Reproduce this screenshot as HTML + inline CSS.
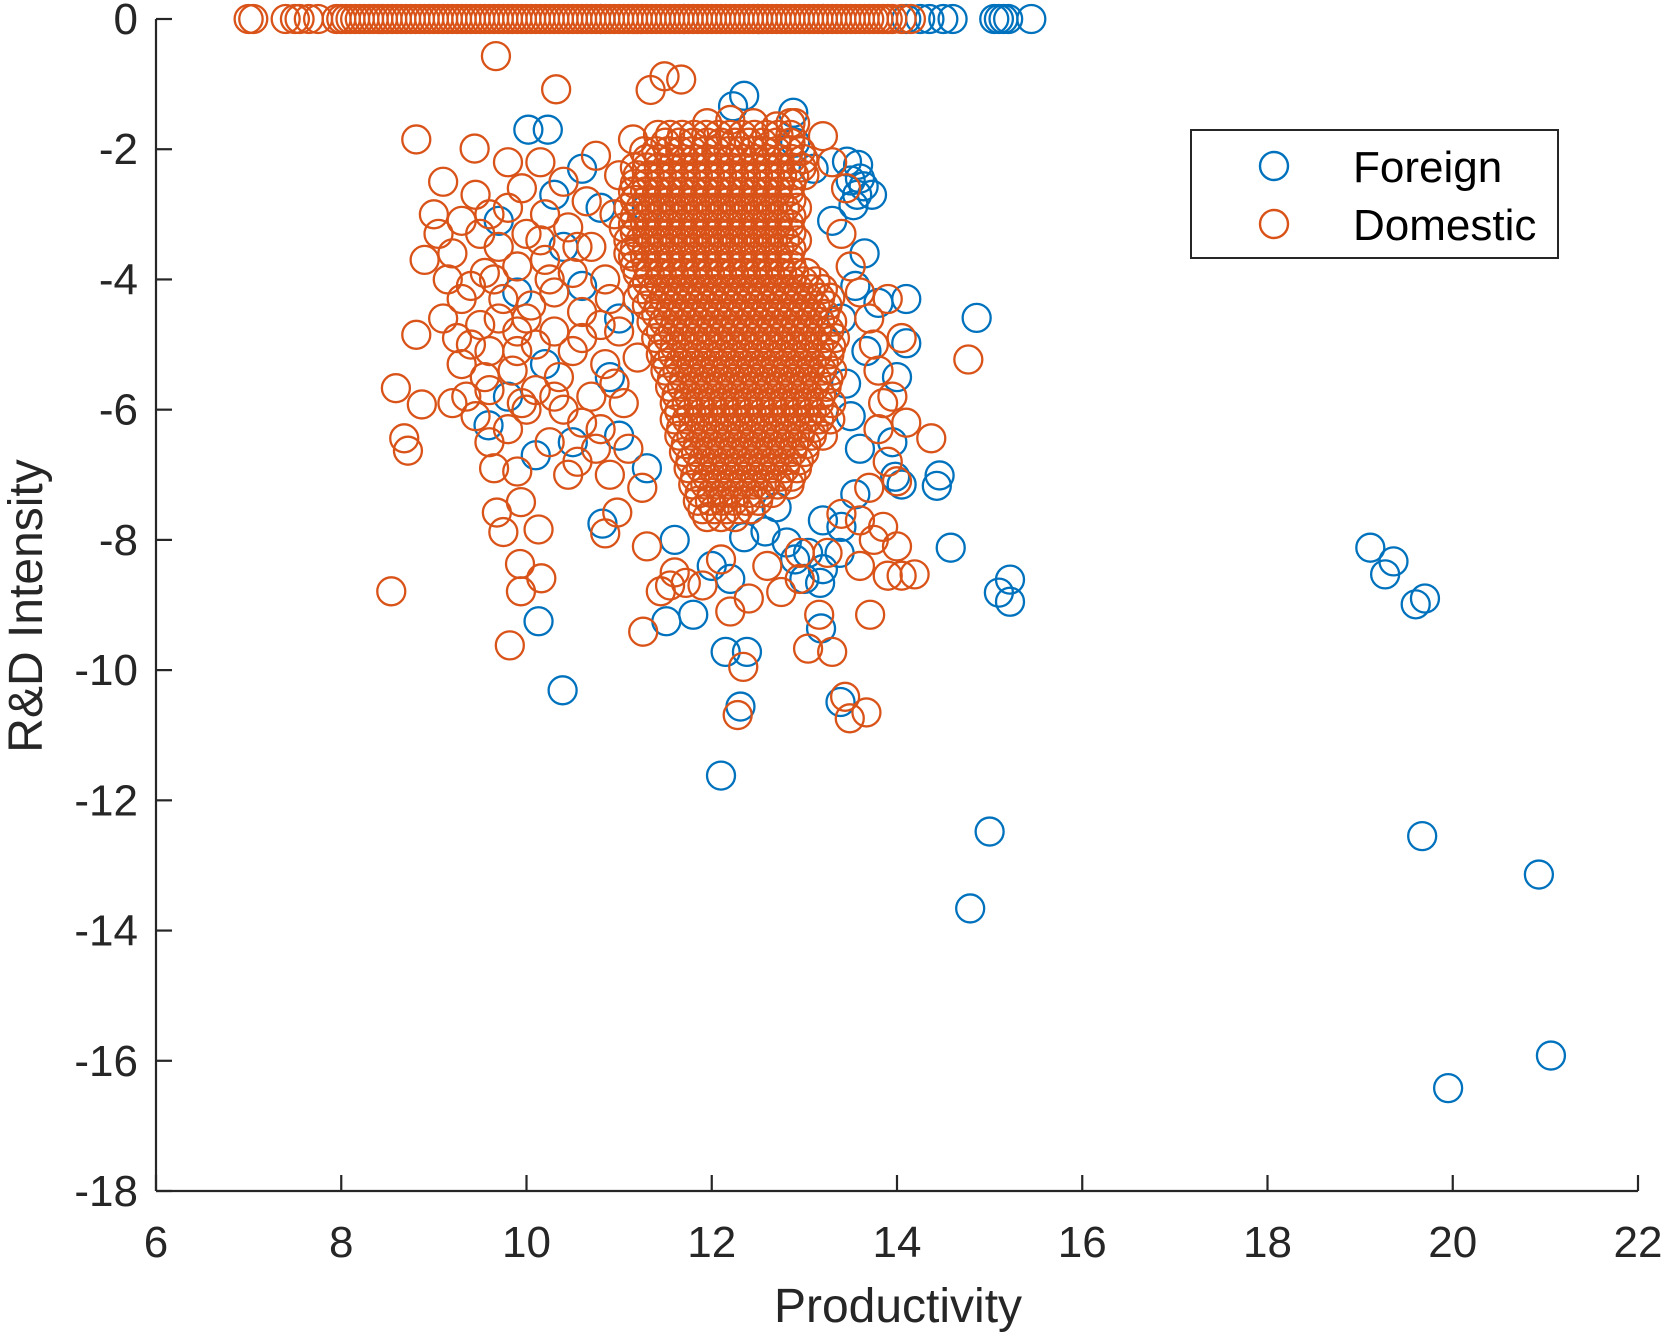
<!DOCTYPE html>
<html><head><meta charset="utf-8"><style>
html,body{margin:0;padding:0;background:#fff;}
svg{display:block;font-family:"Liberation Sans",Arial,sans-serif;}
</style></head><body>
<svg id="chart" width="1667" height="1340" viewBox="0 0 1667 1340" xmlns="http://www.w3.org/2000/svg">
<g id="plot"></g>
<g id="axes"></g>
<text x="898" y="1322" font-size="48" text-anchor="middle" fill="#262626">Productivity</text>
<text x="0" y="0" transform="translate(42,606) rotate(-90)" font-size="48" text-anchor="middle" fill="#262626">R&amp;D Intensity</text>
<g>
<rect x="1191" y="130" width="367" height="128" fill="#fff" stroke="#262626" stroke-width="2"/>
<circle cx="1274" cy="166" r="14" fill="none" stroke="#0072BD" stroke-width="2.4"/>
<text x="1353" y="182" font-size="44" fill="#000">Foreign</text>
<circle cx="1274" cy="224" r="14" fill="none" stroke="#D95319" stroke-width="2.4"/>
<text x="1353" y="240" font-size="44" fill="#000">Domestic</text>
</g>
</svg>
<script>
const xTicks=[6,8,10,12,14,16,18,20,22];
const yTicks=[0,-2,-4,-6,-8,-10,-12,-14,-16,-18];
const foreignTop=[[14.1,0],[14.25,0],[14.35,0],[14.5,0],[14.6,0],[15.05,0],[15.1,0],[15.15,0],[15.2,0],[15.45,0],[13.2,0],[12.5,0],[11.7,0],[10.8,0]];
const foreignPts=[[19.11,-8.12],[19.36,-8.33],[19.27,-8.53],[19.6,-8.99],[19.7,-8.9],[19.67,-12.55],[20.93,-13.14],[21.06,-15.92],[19.95,-16.42],[14.79,-13.66],[15.0,-12.48],[12.1,-11.62],[14.86,-4.59],[14.58,-8.12],[15.1,-8.81],[15.22,-8.61],[15.22,-8.95],[14.46,-7.01],[14.43,-7.17],[10.39,-10.31],[10.13,-9.25],[11.51,-9.25],[11.8,-9.15],[12.15,-9.72],[12.38,-9.72],[12.31,-10.56],[13.39,-10.49],[13.18,-9.36],[13.17,-8.66],[13.46,-2.19],[13.58,-2.24],[13.5,-2.48],[13.64,-2.57],[13.57,-2.7],[13.73,-2.7],[13.53,-2.86],[13.6,-2.45],[12.35,-1.18],[12.23,-1.34],[12.88,-1.44],[10.02,-1.7],[10.23,-1.7],[13.8,-4.36],[14.1,-4.3],[14.1,-4.98],[13.67,-5.1],[13.98,-7.03],[14.05,-7.15],[10.82,-7.75],[9.59,-6.24],[13.38,-8.2],[12.58,-7.87],[12.81,-8.04],[12.35,-7.96],[13.04,-8.2],[13.2,-8.45],[12.9,-8.3],[13.45,-5.6],[13.5,-6.1],[13.6,-6.6],[13.55,-7.3],[13.4,-7.8],[13.65,-3.6],[13.55,-4.1],[13.4,-4.6],[10.3,-2.7],[10.8,-2.9],[10.4,-3.5],[9.9,-4.2],[10.6,-4.1],[11.0,-4.6],[10.2,-5.3],[9.8,-5.8],[10.9,-5.5],[11.0,-6.4],[10.5,-6.5],[11.3,-6.9],[10.1,-6.7],[12.0,-8.4],[12.2,-8.6],[13.0,-8.6],[13.2,-7.7],[12.7,-7.5],[13.95,-6.5],[14.0,-5.5],[9.7,-3.1],[10.6,-2.3],[11.3,-2.9],[11.6,-8.0],[12.9,-1.9],[13.1,-2.3],[13.3,-3.1]];
const domesticTop=[[7.0,0],[7.05,0],[7.4,0],[7.5,0],[7.55,0],[7.65,0],[7.75,0],[7.95,0],[8.0,0],[8.05,0],[8.1,0],[8.15,0],[8.2,0],[8.3,0],[8.35,0],[8.4,0],[8.5,0],[8.6,0],[8.7,0],[8.8,0],[8.9,0],[9.0,0],[9.1,0],[9.2,0],[9.3,0],[9.4,0],[9.5,0],[9.6,0],[9.7,0],[9.8,0],[9.9,0],[10.0,0],[10.1,0],[10.2,0],[10.3,0],[10.4,0],[10.5,0],[10.6,0],[10.7,0],[10.8,0],[10.9,0],[11.0,0],[11.1,0],[11.2,0],[11.3,0],[11.4,0],[11.5,0],[11.6,0],[11.7,0],[11.8,0],[11.9,0],[12.0,0],[12.1,0],[12.2,0],[12.3,0],[12.4,0],[12.5,0],[12.6,0],[12.7,0],[12.8,0],[12.9,0],[13.0,0],[13.1,0],[13.2,0],[13.3,0],[13.4,0],[13.5,0],[13.6,0],[13.7,0],[13.8,0],[13.9,0],[14.05,0],[14.15,0],[8.25,0],[8.45,0],[8.55,0],[8.65,0],[8.75,0],[8.85,0],[8.95,0],[9.05,0],[9.15,0],[9.25,0],[9.35,0],[9.45,0],[9.55,0],[9.65,0],[9.75,0],[9.85,0],[9.95,0],[10.05,0],[10.15,0],[10.25,0],[10.35,0],[10.45,0],[10.55,0],[10.65,0],[10.75,0],[10.85,0],[10.95,0],[11.05,0],[11.15,0],[11.25,0],[11.35,0],[11.45,0],[11.55,0],[11.65,0],[11.75,0],[11.85,0],[11.95,0],[12.05,0],[12.15,0],[12.25,0],[12.35,0],[12.45,0],[12.55,0],[12.65,0],[12.75,0],[12.85,0],[12.95,0],[13.05,0],[13.15,0],[13.25,0],[13.35,0],[13.45,0],[13.55,0],[13.65,0],[13.75,0],[13.85,0],[13.95,0]];
const domesticOut=[[9.67,-0.57],[10.32,-1.08],[8.81,-1.85],[9.44,-1.99],[8.54,-8.79],[8.59,-5.67],[8.68,-6.44],[8.72,-6.63],[8.81,-4.85],[8.87,-5.92],[9.82,-9.62],[9.93,-8.37],[9.94,-8.79],[10.16,-8.59],[10.13,-7.84],[9.94,-7.42],[9.68,-7.58],[9.75,-7.88],[14.77,-5.23],[14.37,-6.44],[14.19,-8.53],[14.05,-8.55],[13.71,-9.15],[13.67,-10.65],[13.49,-10.74],[13.44,-10.41],[12.28,-10.69],[12.34,-9.95],[11.26,-9.41],[13.3,-9.72],[13.04,-9.67],[13.16,-9.15],[11.34,-1.09],[11.49,-0.88],[11.67,-0.93],[10.98,-7.58],[11.45,-8.79],[11.72,-8.66],[9.65,-6.9],[9.9,-6.95],[10.85,-7.9],[11.3,-8.1],[11.6,-8.5],[11.9,-8.7],[12.2,-9.1],[12.4,-8.9],[12.75,-8.8],[12.95,-8.6],[13.6,-8.4],[13.75,-8.0],[13.85,-7.8],[14.0,-8.1],[13.9,-8.55],[12.1,-8.3],[11.55,-8.7]];
const domesticCloud=[[8.9,-3.7],[9.0,-3.0],[9.1,-2.5],[9.05,-3.3],[9.15,-4.0],[9.2,-3.6],[9.3,-4.3],[9.25,-4.9],[9.3,-5.3],[9.35,-5.8],[9.45,-6.1],[9.45,-2.7],[9.5,-3.3],[9.5,-4.7],[9.55,-3.9],[9.6,-5.1],[9.6,-5.7],[9.7,-3.5],[9.75,-4.3],[9.8,-2.2],[9.8,-2.9],[9.8,-6.3],[9.85,-5.4],[9.9,-3.8],[9.9,-4.8],[9.95,-2.6],[10.0,-3.3],[10.0,-6.0],[10.05,-4.4],[10.1,-5.0],[10.1,-5.7],[10.15,-2.2],[10.2,-3.0],[10.2,-3.7],[10.25,-6.5],[10.3,-4.2],[10.3,-4.8],[10.35,-5.5],[10.4,-2.5],[10.4,-6.0],[10.45,-3.2],[10.5,-3.9],[10.5,-5.1],[10.55,-6.8],[10.6,-4.5],[10.65,-2.8],[10.7,-5.8],[10.7,-3.5],[10.75,-2.1],[10.8,-6.3],[10.85,-4.0],[10.85,-5.3],[10.9,-7.0],[10.95,-3.0],[11.0,-4.8],[11.0,-2.4],[11.05,-5.9],[11.1,-3.6],[11.1,-6.6],[11.15,-1.85],[11.2,-4.3],[11.2,-5.2],[9.4,-4.1],[9.65,-4.0],[10.0,-4.6],[10.6,-6.2],[9.55,-5.5],[10.8,-4.7],[11.25,-7.2],[9.2,-5.9],[9.1,-4.6],[13.4,-3.3],[13.5,-3.8],[13.6,-4.2],[13.7,-4.6],[13.75,-5.0],[13.8,-5.4],[13.85,-5.9],[13.8,-6.3],[13.9,-6.8],[14.0,-7.1],[13.7,-7.2],[13.95,-5.8],[14.1,-6.2],[14.05,-4.9],[13.9,-4.3],[13.4,-7.6],[13.6,-7.7],[13.45,-2.6],[13.3,-2.2],[13.2,-1.8],[12.9,-1.6],[13.25,-8.2],[12.95,-8.2],[12.6,-8.4],[9.3,-3.1],[9.6,-3.0],[9.7,-4.6],[9.4,-5.0],[9.9,-5.1],[10.25,-4.0],[10.6,-4.9],[10.3,-5.8],[10.75,-6.6],[10.9,-4.3],[10.55,-3.5],[10.15,-3.4],[9.95,-5.9],[9.6,-6.5],[10.45,-7.0],[10.95,-5.6],[11.05,-3.2]];
const domesticCore=[[11.95,-1.6],[12.2,-1.55],[12.45,-1.6],[12.7,-1.65],[12.85,-1.6],[11.5,-1.9],[11.65,-1.9],[11.8,-1.9],[11.95,-1.9],[12.1,-1.9],[12.25,-1.9],[12.4,-1.9],[12.55,-1.9],[12.7,-1.9],[12.85,-1.9],[11.3,-2.15],[11.43,-2.15],[11.56,-2.15],[11.69,-2.15],[11.82,-2.15],[11.95,-2.15],[12.08,-2.15],[12.21,-2.15],[12.34,-2.15],[12.47,-2.15],[12.6,-2.15],[12.73,-2.15],[12.86,-2.15],[12.99,-2.15],[11.2,-2.4],[11.33,-2.4],[11.46,-2.4],[11.59,-2.4],[11.72,-2.4],[11.85,-2.4],[11.98,-2.4],[12.11,-2.4],[12.24,-2.4],[12.37,-2.4],[12.5,-2.4],[12.63,-2.4],[12.76,-2.4],[12.89,-2.4],[13.0,-2.4],[11.15,-2.65],[11.28,-2.65],[11.41,-2.65],[11.54,-2.65],[11.67,-2.65],[11.8,-2.65],[11.93,-2.65],[12.06,-2.65],[12.19,-2.65],[12.32,-2.65],[12.45,-2.65],[12.58,-2.65],[12.71,-2.65],[12.84,-2.65],[11.1,-2.9],[11.23,-2.9],[11.36,-2.9],[11.49,-2.9],[11.62,-2.9],[11.75,-2.9],[11.88,-2.9],[12.01,-2.9],[12.14,-2.9],[12.27,-2.9],[12.4,-2.9],[12.53,-2.9],[12.66,-2.9],[12.79,-2.9],[12.92,-2.9],[11.15,-3.15],[11.28,-3.15],[11.41,-3.15],[11.54,-3.15],[11.67,-3.15],[11.8,-3.15],[11.93,-3.15],[12.06,-3.15],[12.19,-3.15],[12.32,-3.15],[12.45,-3.15],[12.58,-3.15],[12.71,-3.15],[12.84,-3.15],[11.1,-3.4],[11.23,-3.4],[11.36,-3.4],[11.49,-3.4],[11.62,-3.4],[11.75,-3.4],[11.88,-3.4],[12.01,-3.4],[12.14,-3.4],[12.27,-3.4],[12.4,-3.4],[12.53,-3.4],[12.66,-3.4],[12.79,-3.4],[12.92,-3.4],[11.15,-3.65],[11.28,-3.65],[11.41,-3.65],[11.54,-3.65],[11.67,-3.65],[11.8,-3.65],[11.93,-3.65],[12.06,-3.65],[12.19,-3.65],[12.32,-3.65],[12.45,-3.65],[12.58,-3.65],[12.71,-3.65],[12.84,-3.65],[11.2,-3.9],[11.33,-3.9],[11.46,-3.9],[11.59,-3.9],[11.72,-3.9],[11.85,-3.9],[11.98,-3.9],[12.11,-3.9],[12.24,-3.9],[12.37,-3.9],[12.5,-3.9],[12.63,-3.9],[12.76,-3.9],[12.89,-3.9],[13.02,-3.9],[11.25,-4.15],[11.38,-4.15],[11.51,-4.15],[11.64,-4.15],[11.77,-4.15],[11.9,-4.15],[12.03,-4.15],[12.16,-4.15],[12.29,-4.15],[12.42,-4.15],[12.55,-4.15],[12.68,-4.15],[12.81,-4.15],[12.94,-4.15],[13.07,-4.15],[13.2,-4.15],[11.3,-4.4],[11.43,-4.4],[11.56,-4.4],[11.69,-4.4],[11.82,-4.4],[11.95,-4.4],[12.08,-4.4],[12.21,-4.4],[12.34,-4.4],[12.47,-4.4],[12.6,-4.4],[12.73,-4.4],[12.86,-4.4],[12.99,-4.4],[13.12,-4.4],[13.25,-4.4],[11.35,-4.65],[11.48,-4.65],[11.61,-4.65],[11.74,-4.65],[11.87,-4.65],[12.0,-4.65],[12.13,-4.65],[12.26,-4.65],[12.39,-4.65],[12.52,-4.65],[12.65,-4.65],[12.78,-4.65],[12.91,-4.65],[13.04,-4.65],[13.17,-4.65],[13.3,-4.65],[11.4,-4.9],[11.53,-4.9],[11.66,-4.9],[11.79,-4.9],[11.92,-4.9],[12.05,-4.9],[12.18,-4.9],[12.31,-4.9],[12.44,-4.9],[12.57,-4.9],[12.7,-4.9],[12.83,-4.9],[12.96,-4.9],[13.09,-4.9],[13.22,-4.9],[13.33,-4.9],[11.45,-5.15],[11.58,-5.15],[11.71,-5.15],[11.84,-5.15],[11.97,-5.15],[12.1,-5.15],[12.23,-5.15],[12.36,-5.15],[12.49,-5.15],[12.62,-5.15],[12.75,-5.15],[12.88,-5.15],[13.01,-5.15],[13.14,-5.15],[13.27,-5.15],[11.5,-5.4],[11.63,-5.4],[11.76,-5.4],[11.89,-5.4],[12.02,-5.4],[12.15,-5.4],[12.28,-5.4],[12.41,-5.4],[12.54,-5.4],[12.67,-5.4],[12.8,-5.4],[12.93,-5.4],[13.06,-5.4],[13.19,-5.4],[13.3,-5.4],[11.55,-5.65],[11.68,-5.65],[11.81,-5.65],[11.94,-5.65],[12.07,-5.65],[12.2,-5.65],[12.33,-5.65],[12.46,-5.65],[12.59,-5.65],[12.72,-5.65],[12.85,-5.65],[12.98,-5.65],[13.11,-5.65],[13.24,-5.65],[11.6,-5.9],[11.73,-5.9],[11.86,-5.9],[11.99,-5.9],[12.12,-5.9],[12.25,-5.9],[12.38,-5.9],[12.51,-5.9],[12.64,-5.9],[12.77,-5.9],[12.9,-5.9],[13.03,-5.9],[13.16,-5.9],[13.29,-5.9],[11.6,-6.15],[11.73,-6.15],[11.86,-6.15],[11.99,-6.15],[12.12,-6.15],[12.25,-6.15],[12.38,-6.15],[12.51,-6.15],[12.64,-6.15],[12.77,-6.15],[12.9,-6.15],[13.03,-6.15],[13.16,-6.15],[13.28,-6.15],[11.65,-6.4],[11.78,-6.4],[11.91,-6.4],[12.04,-6.4],[12.17,-6.4],[12.3,-6.4],[12.43,-6.4],[12.56,-6.4],[12.69,-6.4],[12.82,-6.4],[12.95,-6.4],[13.08,-6.4],[13.2,-6.4],[11.7,-6.65],[11.83,-6.65],[11.96,-6.65],[12.09,-6.65],[12.22,-6.65],[12.35,-6.65],[12.48,-6.65],[12.61,-6.65],[12.74,-6.65],[12.87,-6.65],[13.0,-6.65],[11.75,-6.9],[11.88,-6.9],[12.01,-6.9],[12.14,-6.9],[12.27,-6.9],[12.4,-6.9],[12.53,-6.9],[12.66,-6.9],[12.79,-6.9],[12.92,-6.9],[11.8,-7.15],[11.93,-7.15],[12.06,-7.15],[12.19,-7.15],[12.32,-7.15],[12.45,-7.15],[12.58,-7.15],[12.71,-7.15],[12.84,-7.15],[11.85,-7.4],[11.98,-7.4],[12.11,-7.4],[12.24,-7.4],[12.37,-7.4],[12.5,-7.4],[11.95,-7.65],[12.1,-7.65],[12.25,-7.65]];
const domesticCore2=[[11.42,-1.78],[11.55,-1.78],[11.68,-1.78],[11.81,-1.78],[11.94,-1.78],[12.07,-1.78],[12.2,-1.78],[12.33,-1.78],[12.46,-1.78],[12.59,-1.78],[12.72,-1.78],[12.85,-1.78],[11.27,-2.03],[11.4,-2.03],[11.53,-2.03],[11.66,-2.03],[11.79,-2.03],[11.92,-2.03],[12.05,-2.03],[12.18,-2.03],[12.31,-2.03],[12.44,-2.03],[12.57,-2.03],[12.7,-2.03],[12.83,-2.03],[12.96,-2.03],[11.17,-2.28],[11.3,-2.28],[11.43,-2.28],[11.56,-2.28],[11.69,-2.28],[11.82,-2.28],[11.95,-2.28],[12.08,-2.28],[12.21,-2.28],[12.34,-2.28],[12.47,-2.28],[12.6,-2.28],[12.73,-2.28],[12.86,-2.28],[12.97,-2.28],[11.17,-2.53],[11.3,-2.53],[11.43,-2.53],[11.56,-2.53],[11.69,-2.53],[11.82,-2.53],[11.95,-2.53],[12.08,-2.53],[12.21,-2.53],[12.34,-2.53],[12.47,-2.53],[12.6,-2.53],[12.73,-2.53],[12.86,-2.53],[11.17,-2.78],[11.3,-2.78],[11.43,-2.78],[11.56,-2.78],[11.69,-2.78],[11.82,-2.78],[11.95,-2.78],[12.08,-2.78],[12.21,-2.78],[12.34,-2.78],[12.47,-2.78],[12.6,-2.78],[12.73,-2.78],[12.86,-2.78],[11.17,-3.03],[11.3,-3.03],[11.43,-3.03],[11.56,-3.03],[11.69,-3.03],[11.82,-3.03],[11.95,-3.03],[12.08,-3.03],[12.21,-3.03],[12.34,-3.03],[12.47,-3.03],[12.6,-3.03],[12.73,-3.03],[12.86,-3.03],[11.17,-3.28],[11.3,-3.28],[11.43,-3.28],[11.56,-3.28],[11.69,-3.28],[11.82,-3.28],[11.95,-3.28],[12.08,-3.28],[12.21,-3.28],[12.34,-3.28],[12.47,-3.28],[12.6,-3.28],[12.73,-3.28],[12.86,-3.28],[11.17,-3.53],[11.3,-3.53],[11.43,-3.53],[11.56,-3.53],[11.69,-3.53],[11.82,-3.53],[11.95,-3.53],[12.08,-3.53],[12.21,-3.53],[12.34,-3.53],[12.47,-3.53],[12.6,-3.53],[12.73,-3.53],[12.86,-3.53],[11.17,-3.78],[11.3,-3.78],[11.43,-3.78],[11.56,-3.78],[11.69,-3.78],[11.82,-3.78],[11.95,-3.78],[12.08,-3.78],[12.21,-3.78],[12.34,-3.78],[12.47,-3.78],[12.6,-3.78],[12.73,-3.78],[12.86,-3.78],[11.3,-4.03],[11.43,-4.03],[11.56,-4.03],[11.69,-4.03],[11.82,-4.03],[11.95,-4.03],[12.08,-4.03],[12.21,-4.03],[12.34,-4.03],[12.47,-4.03],[12.6,-4.03],[12.73,-4.03],[12.86,-4.03],[12.99,-4.03],[13.12,-4.03],[11.35,-4.28],[11.48,-4.28],[11.61,-4.28],[11.74,-4.28],[11.87,-4.28],[12.0,-4.28],[12.13,-4.28],[12.26,-4.28],[12.39,-4.28],[12.52,-4.28],[12.65,-4.28],[12.78,-4.28],[12.91,-4.28],[13.04,-4.28],[13.17,-4.28],[13.28,-4.28],[11.4,-4.53],[11.53,-4.53],[11.66,-4.53],[11.79,-4.53],[11.92,-4.53],[12.05,-4.53],[12.18,-4.53],[12.31,-4.53],[12.44,-4.53],[12.57,-4.53],[12.7,-4.53],[12.83,-4.53],[12.96,-4.53],[13.09,-4.53],[13.22,-4.53],[11.45,-4.78],[11.58,-4.78],[11.71,-4.78],[11.84,-4.78],[11.97,-4.78],[12.1,-4.78],[12.23,-4.78],[12.36,-4.78],[12.49,-4.78],[12.62,-4.78],[12.75,-4.78],[12.88,-4.78],[13.01,-4.78],[13.14,-4.78],[13.27,-4.78],[11.47,-5.03],[11.6,-5.03],[11.73,-5.03],[11.86,-5.03],[11.99,-5.03],[12.12,-5.03],[12.25,-5.03],[12.38,-5.03],[12.51,-5.03],[12.64,-5.03],[12.77,-5.03],[12.9,-5.03],[13.03,-5.03],[13.16,-5.03],[13.29,-5.03],[11.52,-5.28],[11.65,-5.28],[11.78,-5.28],[11.91,-5.28],[12.04,-5.28],[12.17,-5.28],[12.3,-5.28],[12.43,-5.28],[12.56,-5.28],[12.69,-5.28],[12.82,-5.28],[12.95,-5.28],[13.08,-5.28],[13.21,-5.28],[11.57,-5.53],[11.7,-5.53],[11.83,-5.53],[11.96,-5.53],[12.09,-5.53],[12.22,-5.53],[12.35,-5.53],[12.48,-5.53],[12.61,-5.53],[12.74,-5.53],[12.87,-5.53],[13.0,-5.53],[13.13,-5.53],[13.26,-5.53],[11.62,-5.78],[11.75,-5.78],[11.88,-5.78],[12.01,-5.78],[12.14,-5.78],[12.27,-5.78],[12.4,-5.78],[12.53,-5.78],[12.66,-5.78],[12.79,-5.78],[12.92,-5.78],[13.05,-5.78],[13.18,-5.78],[11.65,-6.03],[11.78,-6.03],[11.91,-6.03],[12.04,-6.03],[12.17,-6.03],[12.3,-6.03],[12.43,-6.03],[12.56,-6.03],[12.69,-6.03],[12.82,-6.03],[12.95,-6.03],[13.08,-6.03],[13.21,-6.03],[11.67,-6.28],[11.8,-6.28],[11.93,-6.28],[12.06,-6.28],[12.19,-6.28],[12.32,-6.28],[12.45,-6.28],[12.58,-6.28],[12.71,-6.28],[12.84,-6.28],[12.97,-6.28],[13.1,-6.28],[11.72,-6.53],[11.85,-6.53],[11.98,-6.53],[12.11,-6.53],[12.24,-6.53],[12.37,-6.53],[12.5,-6.53],[12.63,-6.53],[12.76,-6.53],[12.89,-6.53],[13.02,-6.53],[11.77,-6.78],[11.9,-6.78],[12.03,-6.78],[12.16,-6.78],[12.29,-6.78],[12.42,-6.78],[12.55,-6.78],[12.68,-6.78],[12.81,-6.78],[12.94,-6.78],[11.82,-7.03],[11.95,-7.03],[12.08,-7.03],[12.21,-7.03],[12.34,-7.03],[12.47,-7.03],[12.6,-7.03],[12.73,-7.03],[12.86,-7.03],[11.87,-7.28],[12.0,-7.28],[12.13,-7.28],[12.26,-7.28],[12.39,-7.28],[12.52,-7.28],[12.65,-7.28],[11.9,-7.53],[12.03,-7.53],[12.16,-7.53],[12.29,-7.53],[12.42,-7.53]];
const X0=6,X1=22,Y0=-18,Y1=0,L=156,R=1638,T=19,B=1191;
function sx(v){return L+(v-X0)/(X1-X0)*(R-L);}
function sy(v){return T+(Y1-v)/(Y1-Y0)*(B-T);}
const NS='http://www.w3.org/2000/svg';
const plot=document.getElementById('plot'),axes=document.getElementById('axes');
function drawSeries(pts,color,name){
  for(const p of pts){
    const c=document.createElementNS(NS,'circle');
    c.setAttribute('cx',sx(p[0]));c.setAttribute('cy',sy(p[1]));c.setAttribute('r',14);
    c.setAttribute('fill','none');c.setAttribute('stroke',color);c.setAttribute('stroke-width',2.3);
    
    
    plot.appendChild(c);
  }
}
drawSeries(foreignTop,'#0072BD','foreign-point');
drawSeries(foreignPts,'#0072BD','foreign-point');
drawSeries(domesticTop,'#D95319','domestic-point');
drawSeries(domesticCloud,'#D95319','domestic-point');
drawSeries(domesticCore,'#D95319','domestic-point');
drawSeries(domesticCore2,'#D95319','domestic-point');
drawSeries(domesticOut,'#D95319','domestic-point');
function line(x1,y1,x2,y2,name){
  const l=document.createElementNS(NS,'line');
  l.setAttribute('x1',x1);l.setAttribute('y1',y1);l.setAttribute('x2',x2);l.setAttribute('y2',y2);
  l.setAttribute('stroke','#262626');l.setAttribute('stroke-width',2.2);
  
  
  axes.appendChild(l);
}
line(L,T,L,B,'y-axis-line');
line(L,B,R,B,'x-axis-line');
for(const t of xTicks){
  line(sx(t),B,sx(t),B-16,'x-tick');
  const tx=document.createElementNS(NS,'text');
  tx.setAttribute('x',sx(t));tx.setAttribute('y',B+66);tx.setAttribute('font-size',44);
  tx.setAttribute('text-anchor','middle');tx.setAttribute('fill','#262626');
  
  
  tx.textContent=t;axes.appendChild(tx);
}
for(const t of yTicks){
  line(L,sy(t),L+16,sy(t),'y-tick');
  const tx=document.createElementNS(NS,'text');
  tx.setAttribute('x',L-18);tx.setAttribute('y',sy(t)+15);tx.setAttribute('font-size',44);
  tx.setAttribute('text-anchor','end');tx.setAttribute('fill','#262626');
  
  
  tx.textContent=t;axes.appendChild(tx);
}
</script>
</body></html>
